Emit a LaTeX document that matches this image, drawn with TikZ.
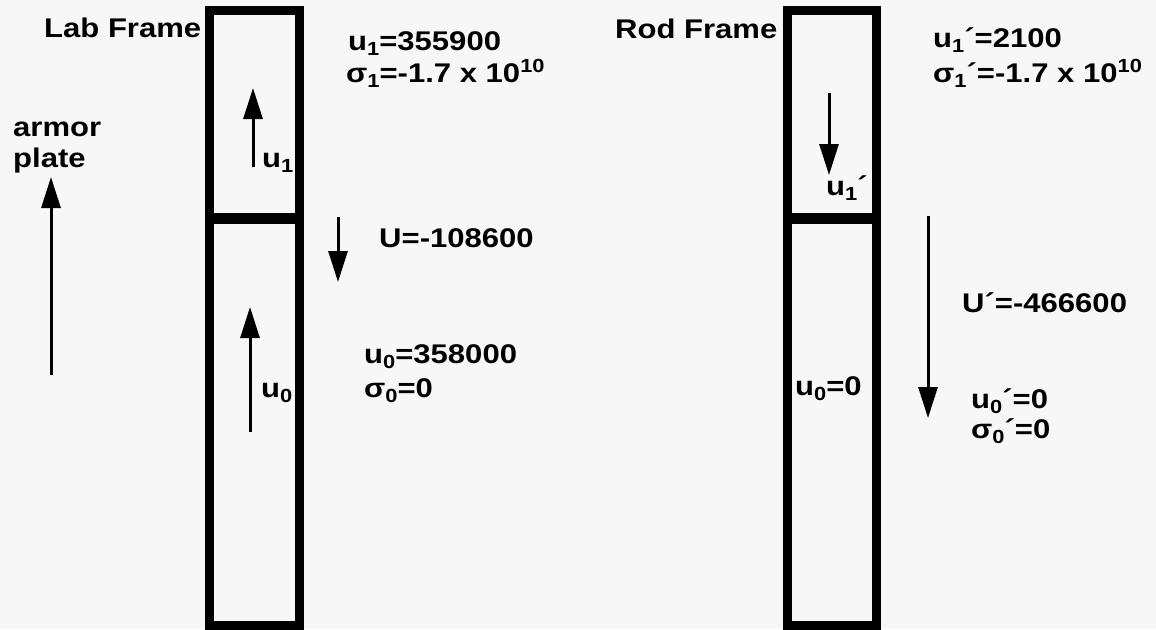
\documentclass[tikz,border=0pt]{standalone}
\usepackage{fontspec}
\setmainfont{Liberation Sans}[FakeStretch=1.15]
\usetikzlibrary{arrows.meta}
\definecolor{bg}{RGB}{247,247,247}
\newcommand\mysub[1]{\raisebox{-5pt}{\fontsize{19}{19}\selectfont #1}}
\newcommand\mysup[1]{\raisebox{10pt}{\fontsize{19}{19}\selectfont #1}}
\begin{document}
\begin{tikzpicture}[x=1pt,y=-1pt,
  lbl/.style={anchor=base west, inner sep=0pt, font=\fontsize{27}{31}\selectfont\bfseries},
  wall/.style={line width=9pt},
  divider/.style={line width=11pt},
  vec/.style={line width=3pt, -{Triangle[length=31pt,width=19pt]}}
]
\fill[bg] (0,0) rectangle (1156,629);
\useasboundingbox (0,0) rectangle (1156,629);

% rods
\draw[wall] (209.5,10.5) rectangle (299,625.5);
\draw[divider] (209.5,218.5) -- (299,218.5);
\draw[wall] (787,10.5) rectangle (876,625.5);
\draw[divider] (787,218.5) -- (876,218.5);

% arrow end points
\coordinate (armorA) at (51,375);
\coordinate (armorB) at (51,177);
\coordinate (uoneA) at (253,167);
\coordinate (uoneB) at (253,88);
\coordinate (UA) at (338,217);
\coordinate (UB) at (338,282);
\coordinate (uzeroA) at (250,432);
\coordinate (uzeroB) at (250,307);
\coordinate (uonepA) at (829,93);
\coordinate (uonepB) at (829,175);
\coordinate (UpA) at (928,216);
\coordinate (UpB) at (928,418);

\draw[vec] (armorA) -- (armorB);
\draw[vec] (uoneA) -- (uoneB);
\draw[vec] (UA) -- (UB);
\draw[vec] (uzeroA) -- (uzeroB);
\draw[vec] (uonepA) -- (uonepB);
\draw[vec] (UpA) -- (UpB);

% labels
\node[lbl] (labframe) at (44,37) {Lab Frame};
\node[lbl] (rodframe) at (615,38) {Rod Frame};
\node[lbl, align=left] (armor) at (13,167) {armor\\plate};
\node[lbl] (u1v) at (348,50) {u\mysub{1}=355900};
\node[lbl] (s1v) at (346,82) {σ\mysub{1}=-1.7 x 10\mysup{10}};
\node[lbl] (u1lab) at (262,167) {u\mysub{1}};
\node[lbl] (Uv) at (379,247) {U=-108600};
\node[lbl] (u0v) at (364,363) {u\mysub{0}=358000};
\node[lbl] (s0v) at (364,397) {σ\mysub{0}=0};
\node[lbl] (u0lab) at (261,397) {u\mysub{0}};
\node[lbl] (u1pv) at (933,47) {u\mysub{1}´=2100};
\node[lbl] (s1pv) at (933,82) {σ\mysub{1}´=-1.7 x 10\mysup{10}};
\node[lbl] (u1plab) at (826,195) {u\mysub{1}´};
\node[lbl] (Upv) at (962,312) {U´=-466600};
\node[lbl] (u0r) at (795,395) {u\mysub{0}=0};
\node[lbl] (u0pv) at (971,408) {u\mysub{0}´=0};
\node[lbl] (s0pv) at (971,438) {σ\mysub{0}´=0};
\end{tikzpicture}
\end{document}
